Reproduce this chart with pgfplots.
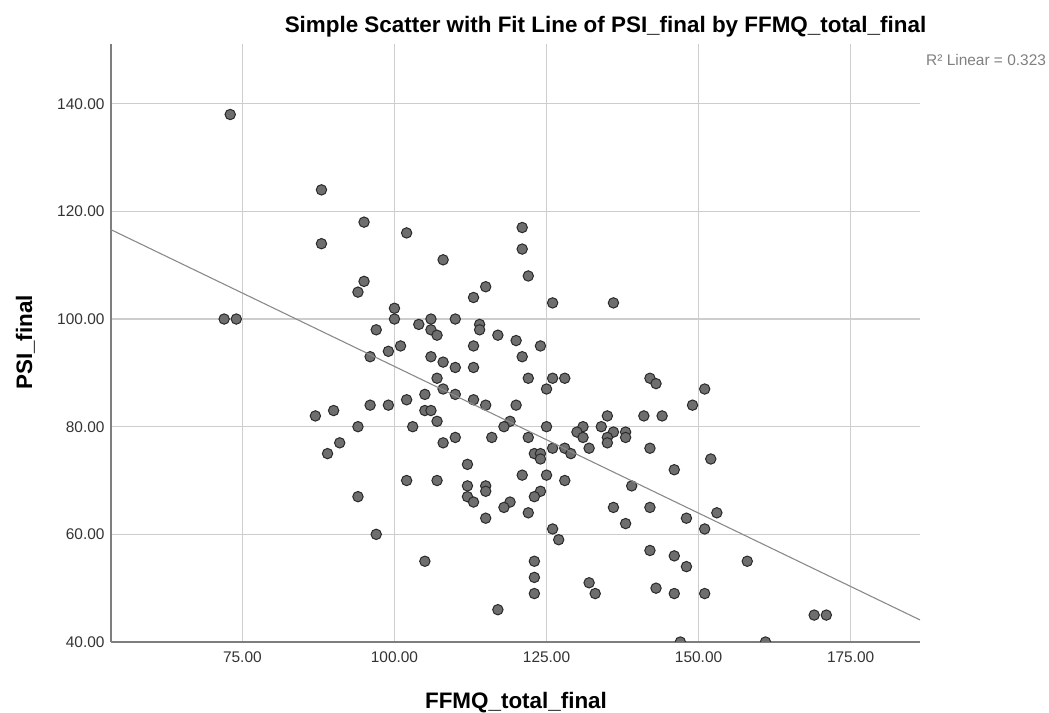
\documentclass[border=0pt]{standalone}
\usepackage{fontspec}
\setmainfont{Liberation Sans}
\usepackage{pgfplots}
\usepackage{pgfplotstable}
\pgfplotsset{compat=1.18}
\definecolor{gridc}{HTML}{CDCDCD}
\definecolor{axisc}{HTML}{7E7E7E}
\definecolor{markfill}{HTML}{6E6E6E}
\definecolor{markdraw}{HTML}{2A2A2A}
\definecolor{fitc}{HTML}{8A8A8A}
\definecolor{tickc}{HTML}{333333}
\definecolor{rsqc}{HTML}{808080}
\pgfplotstableread{
x y
73 138
88 124
95 118
102 116
88 114
95 107
94 105
100 102
100 100
104 99
72 100
74 100
97 98
101 95
99 94
96 93
102 85
96 84
99 84
90 83
87 82
94 80
103 80
91 77
89 75
102 70
94 67
97 60
105 55
121 117
121 113
108 111
122 108
115 106
113 104
126 103
106 100
110 100
106 98
114 99
114 98
107 97
117 97
120 96
113 95
124 95
106 93
121 93
108 92
110 91
113 91
107 89
122 89
126 89
128 89
108 87
125 87
105 86
110 86
113 85
115 84
120 84
105 83
106 83
107 81
119 81
118 80
125 80
110 78
116 78
122 78
108 77
126 76
128 76
129 75
123 75
124 75
124 74
112 73
121 71
125 71
107 70
128 70
112 69
115 69
115 68
112 67
124 68
123 67
113 66
119 66
118 65
122 64
115 63
126 61
127 59
123 55
123 52
123 49
117 46
136 103
142 89
143 88
151 87
149 84
135 82
141 82
144 82
131 80
134 80
130 79
136 79
138 79
131 78
135 78
138 78
135 77
132 76
142 76
152 74
146 72
139 69
136 65
142 65
153 64
138 62
148 63
151 61
142 57
146 56
148 54
132 51
133 49
143 50
146 49
151 49
147 40
158 55
169 45
171 45
161 40
}\scatterdata
\begin{document}
\begin{tikzpicture}[x=1bp,y=1bp]
\useasboundingbox (0,0) rectangle (1049,713);
\begin{axis}[
  at={(111bp,71bp)}, anchor=south west,
  scale only axis, width=809bp, height=598bp,
  xmin=53.4, xmax=186.4, ymin=40, ymax=151.1,
  axis x line*=bottom, axis y line*=left,
  axis line style={axisc, line width=1.3bp, -},
  xtick={75,100,125,150,175}, ytick={40,60,80,100,120,140},
  grid=major, major grid style={gridc, line width=1.1bp},
  major tick length=0pt,
  tick label style={font=\fontsize{15.5}{18}\selectfont, text=tickc},
  yticklabel style={xshift=-3bp},
  xticklabel style={yshift=-6bp},
  /pgf/number format/fixed,
  /pgf/number format/fixed zerofill,
  /pgf/number format/precision=2,
  /pgf/number format/assume math mode=true,
  clip marker paths=true,
]
\addplot[only marks, mark=*, mark size=5.2bp,
  mark options={fill=markfill, draw=markdraw, line width=1bp}]
  table[x=x, y=y] {\scatterdata};
\addplot[fitc, line width=1.1bp] coordinates {(53.4,116.6) (186.4,44.1)};
\end{axis}
\node[anchor=base, font=\fontsize{22.5}{26}\selectfont\bfseries] at (605.5,680) {Simple Scatter with Fit Line of PSI\_final by FFMQ\_total\_final};
\node[anchor=base, font=\fontsize{22.5}{26}\selectfont\bfseries] at (516,4) {FFMQ\_total\_final};
\node[anchor=base, rotate=90, font=\fontsize{22.5}{26}\selectfont\bfseries] at (32,370.5) {PSI\_final};
\node[anchor=base west, inner sep=0pt, font=\fontsize{15.5}{18}\selectfont, text=rsqc] at (926,647) {R² Linear = 0.323};
\end{tikzpicture}
\end{document}
